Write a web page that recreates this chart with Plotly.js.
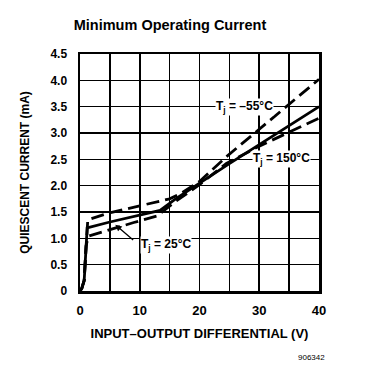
<!DOCTYPE html>
<html><head><meta charset="utf-8">
<script src="https://cdn.plot.ly/plotly-3.0.1.min.js"></script>
<style>body{margin:0;background:#fff}#g{width:378px;height:371px}</style>
</head><body><div id="g"></div>
<script>
// Tj = -55°C (upper dashed)
const xM55 = [0, 0.3, 0.7, 1.0, 1.3, 4.5, 8, 12, 15, 17, 20, 24.5, 28, 32.9, 36, 40];
const yM55 = [0, 0.05, 0.2, 0.9, 1.35, 1.47, 1.56, 1.66, 1.75, 1.86, 2.08, 2.55, 2.88, 3.35, 3.65, 4.02];
// Tj = 25°C (solid)
const x25 = [0, 0.3, 0.7, 1.0, 1.2, 5, 9, 13.4, 16, 20, 25, 30, 35, 40];
const y25 = [0, 0.05, 0.2, 0.9, 1.2, 1.31, 1.42, 1.53, 1.75, 2.05, 2.42, 2.78, 3.14, 3.5];
// Tj = 150°C (lower dashed)
const x150 = [0, 0.3, 0.7, 1.0, 1.4, 5, 9, 12.8, 16, 20, 24.5, 30, 35, 40];
const y150 = [0, 0.05, 0.2, 0.85, 1.04, 1.17, 1.3, 1.42, 1.7, 2.02, 2.42, 2.75, 3.02, 3.28];

const xTicks = [0, 10, 20, 30, 40];
const xTickText = ["0", "10", "20", "30", "40"];
const xMinorGrid = [5, 15, 25, 35];
const yTicks = [0, 0.5, 1.0, 1.5, 2.0, 2.5, 3.0, 3.5, 4.0, 4.5];
const yTickText = ["0", "0.5", "1.0", "1.5", "2.0", "2.5", "3.0", "3.5", "4.0", "4.5"];

const F = "Liberation Sans Narrow, Arial Narrow, Liberation Sans, Arial, sans-serif";
const lineStyle = (dash) => ({color: "#000", width: 2.8, dash: dash, shape: "linear"});

const traces = [
  {x: xM55, y: yM55, mode: "lines", line: lineStyle("13px,6px"), hoverinfo: "none"},
  {x: x25, y: y25, mode: "lines", line: lineStyle("solid"), hoverinfo: "none"},
  {x: x150, y: y150, mode: "lines", line: lineStyle("13px,6px"), hoverinfo: "none"}
];

const lab = (x, y, t) => ({x: x, y: y, xref: "x", yref: "y", text: t, showarrow: false,
  font: {family: F, size: 12, color: "#000", weight: "bold"}, bgcolor: "#fff", borderpad: 0});

const layout = {
  width: 378, height: 371,
  margin: {l: 80, r: 59, t: 54, b: 80},
  paper_bgcolor: "#fff", plot_bgcolor: "#fff",
  showlegend: false,
  title: {text: "<b>Minimum Operating Current</b>", x: 170/378, xanchor: "center", y: 1 - 25/371, yanchor: "middle",
    font: {family: "Liberation Sans, Arial, sans-serif", size: 14.5, color: "#000"}},
  xaxis: {range: [0, 40], tickvals: xTicks, ticktext: xTickText.map(t => "<b>" + t + "</b>"),
    showgrid: true, gridcolor: "#000", gridwidth: 1.6, zeroline: false,
    minor: {tickvals: xMinorGrid, showgrid: true, gridcolor: "#000", gridwidth: 1.6, ticks: ""},
    showline: true, linecolor: "#000", linewidth: 2.5, mirror: true,
    ticks: "outside", ticklen: 6, tickcolor: "rgba(0,0,0,0)",
    tickfont: {family: F, size: 13, color: "#000"},
    title: {text: "<b>INPUT–OUTPUT DIFFERENTIAL (V)</b>", standoff: 12, font: {family: F, size: 13, color: "#000"}}},
  yaxis: {range: [0, 4.5], tickvals: yTicks, ticktext: yTickText.map(t => "<b>" + t + "</b>"),
    showgrid: true, gridcolor: "#000", gridwidth: 1.6, zeroline: false,
    showline: true, linecolor: "#000", linewidth: 2.5, mirror: true,
    ticks: "outside", ticklen: 8, tickcolor: "rgba(0,0,0,0)",
    tickfont: {family: F, size: 12, color: "#000"},
    title: {text: "<b>QUIESCENT CURRENT (mA)</b>", standoff: 18, font: {family: F, size: 12, color: "#000"}}},
  annotations: [
    lab(27.6, 3.5, "T<sub>j</sub> = –55°C"),
    lab(33.7, 2.5, "T<sub>j</sub> = 150°C"),
    lab(14.4, 0.87, "T<sub>j</sub> = 25°C"),
    {x: 5.9, y: 1.26, ax: 9.4, ay: 0.92, xref: "x", yref: "y", axref: "x", ayref: "y", text: " ",
      showarrow: true, arrowhead: 2, arrowsize: 1, arrowwidth: 1.3, arrowcolor: "#000"},
    {x: (327 - 80) / 239, y: (291 - 357) / 237, xref: "paper", yref: "paper", text: "906342", showarrow: false,
      xanchor: "right", yanchor: "middle", font: {family: "Liberation Sans, Arial, sans-serif", size: 8, color: "#000"}}
  ]
};
Plotly.newPlot("g", traces, layout, {staticPlot: true, displayModeBar: false});
</script></body></html>
